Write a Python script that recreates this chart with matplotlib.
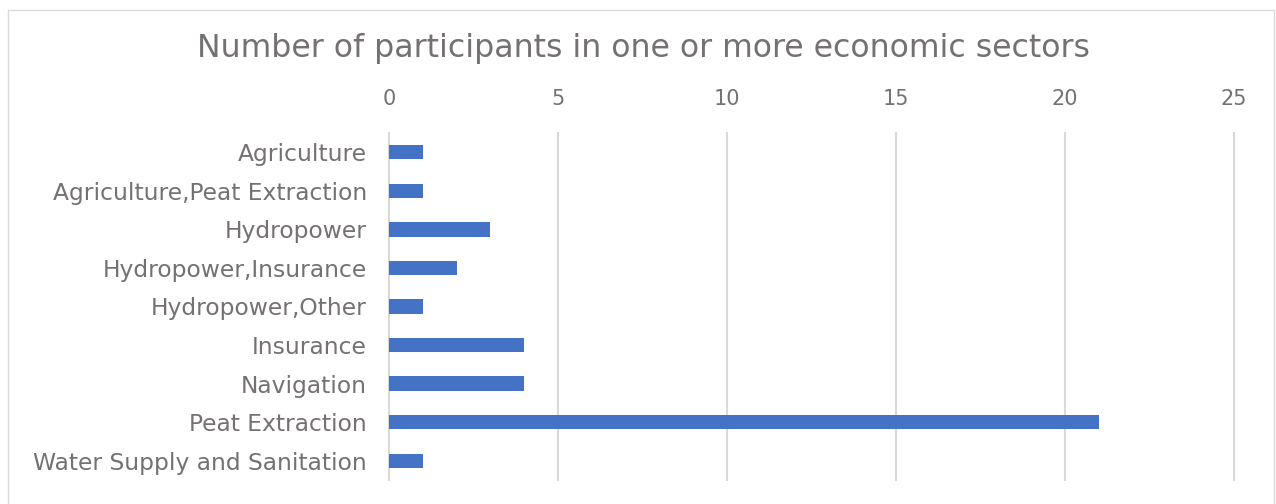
import matplotlib.pyplot as plt
from matplotlib.patches import Rectangle

sectors = ["Agriculture", "Agriculture,Peat Extraction", "Hydropower",
           "Hydropower,Insurance", "Hydropower,Other", "Insurance",
           "Navigation", "Peat Extraction", "Water Supply and Sanitation"]
counts = [1, 1, 3, 2, 1, 4, 4, 21, 1]
xticks = [0, 5, 10, 15, 20, 25]

grey = "#757171"
plt.rcParams['font.family'] = ['DejaVu Sans']

fig = plt.figure(figsize=(12.76, 5.04), dpi=100)
# chart border
fig.patches.append(Rectangle((8 / 1276, -0.1), 1266 / 1276, 1.1 - 10 / 504,
                             transform=fig.transFigure, fill=False,
                             edgecolor="#d9d9d9", linewidth=1))

ax = fig.add_axes([389 / 1276, 1 - 480 / 504, (1234 - 389) / 1276, (480 - 133) / 504])
ax.barh(range(len(sectors)), counts, height=0.37, color="#4472c4", zorder=3)
ax.set_ylim(len(sectors) - 0.5, -0.5)
ax.set_xlim(0, 25)
ax.set_xticks(xticks)
ax.set_yticks(range(len(sectors)))
ax.set_yticklabels(sectors)
ax.xaxis.tick_top()
ax.tick_params(axis="both", length=0, colors=grey)
ax.tick_params(axis="x", pad=17, labelsize=15)
ax.tick_params(axis="y", pad=16, labelsize=16.8)
ax.grid(axis="x", color="#d9d9d9", linewidth=1.5, zorder=0)
for gl in ax.get_xgridlines():
    gl.set_clip_on(False)
for s in ax.spines.values():
    s.set_visible(False)

fig.text(643 / 1276, 1 - 49 / 504, "Number of participants in one or more economic sectors",
         ha="center", va="center", fontsize=22.7, color=grey)

fig.savefig("out.png", dpi=100)
